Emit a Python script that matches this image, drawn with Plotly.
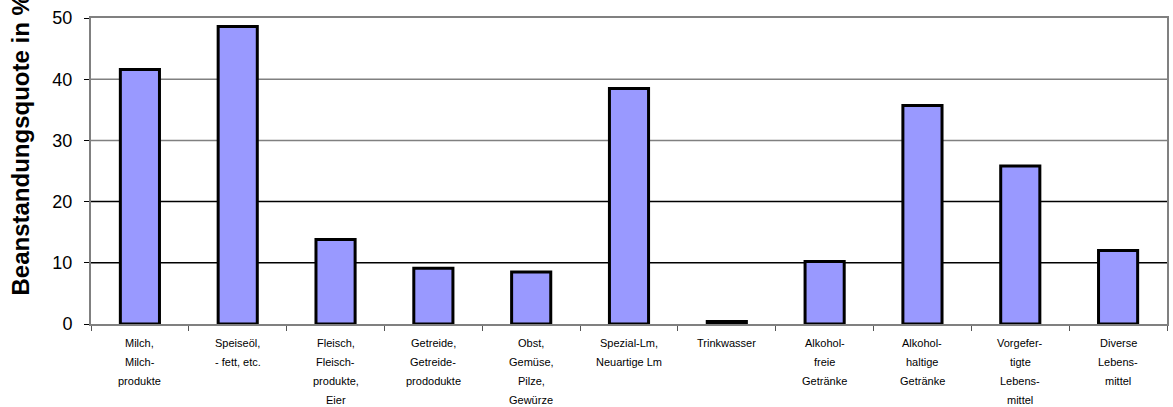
import plotly.graph_objects as go

# Food groups (line breaks as printed under the axis)
categories = [
    "Milch,<br>Milch-<br>produkte",
    "Speiseöl,<br>- fett, etc.",
    "Fleisch,<br>Fleisch-<br>produkte,<br>Eier",
    "Getreide,<br>Getreide-<br>prododukte",
    "Obst,<br>Gemüse,<br>Pilze,<br>Gewürze",
    "Spezial-Lm,<br>Neuartige Lm",
    "Trinkwasser",
    "Alkohol-<br>freie<br>Getränke",
    "Alkohol-<br>haltige<br>Getränke",
    "Vorgefer-<br>tigte<br>Lebens-<br>mittel",
    "Diverse<br>Lebens-<br>mittel",
]

# Complaint rate per group, in percent
quote = [41.6, 48.6, 13.8, 9.1, 8.5, 38.5, 0.4, 10.2, 35.7, 25.8, 12.0]

y_ticks = [0, 10, 20, 30, 40, 50]
grid_values = [10, 20, 30, 40]
grid_colors = ["black", "black", "#808080", "#808080"]

FONT = "Liberation Sans, Arial, sans-serif"

fig = go.Figure()
fig.add_trace(go.Bar(
    x=categories,
    y=quote,
    marker=dict(color="#9999FF", line=dict(color="black", width=3)),
    width=0.4,
    hoverinfo="x+y",
))

annotations = []
# Multi-line category labels, one line per annotation for wider spacing
for cat in categories:
    for j, line in enumerate(cat.split("<br>")):
        annotations.append(dict(
            x=cat, xref="x", y=0, yref="paper",
            yshift=-(19 + 19 * j), yanchor="middle", xanchor="center",
            text=line, showarrow=False,
            font=dict(family=FONT, size=11, color="black"),
        ))

# Rotated y-axis title
annotations.append(dict(
    x=0, xref="paper", xshift=-71, xanchor="center",
    y=0, yref="paper", yshift=26, yanchor="bottom",
    text="<b>Beanstandungsquote in %</b>", textangle=-90, showarrow=False,
    font=dict(family=FONT, size=24, color="black"),
))

# Horizontal gridlines beneath the bars
shapes = [
    dict(type="line", xref="paper", x0=0, x1=1, yref="y", y0=v, y1=v,
         line=dict(color=c, width=1.5), layer="below")
    for v, c in zip(grid_values, grid_colors)
]

fig.update_layout(
    width=1173, height=407,
    margin=dict(l=91, r=4, t=18, b=83),
    paper_bgcolor="white", plot_bgcolor="white",
    showlegend=False,
    font=dict(family=FONT, color="black"),
    annotations=annotations,
    shapes=shapes,
    xaxis=dict(
        type="category",
        range=[-0.5, len(categories) - 0.5],
        showticklabels=False,
        tickson="boundaries", ticks="outside", ticklen=5,
        tickcolor="#555555", tickwidth=1,
        showline=True, linecolor="#808080", linewidth=2, mirror=True,
        showgrid=False,
    ),
    yaxis=dict(
        range=[0, 50],
        tickvals=y_ticks,
        ticks="outside", ticklen=5, tickcolor="black", tickwidth=1,
        tickfont=dict(family=FONT, size=18, color="black"),
        ticklabelstandoff=8,
        showline=True, linecolor="#808080", linewidth=2, mirror=True,
        showgrid=False,
        zeroline=False,
    ),
)

fig.write_html("out.html")
